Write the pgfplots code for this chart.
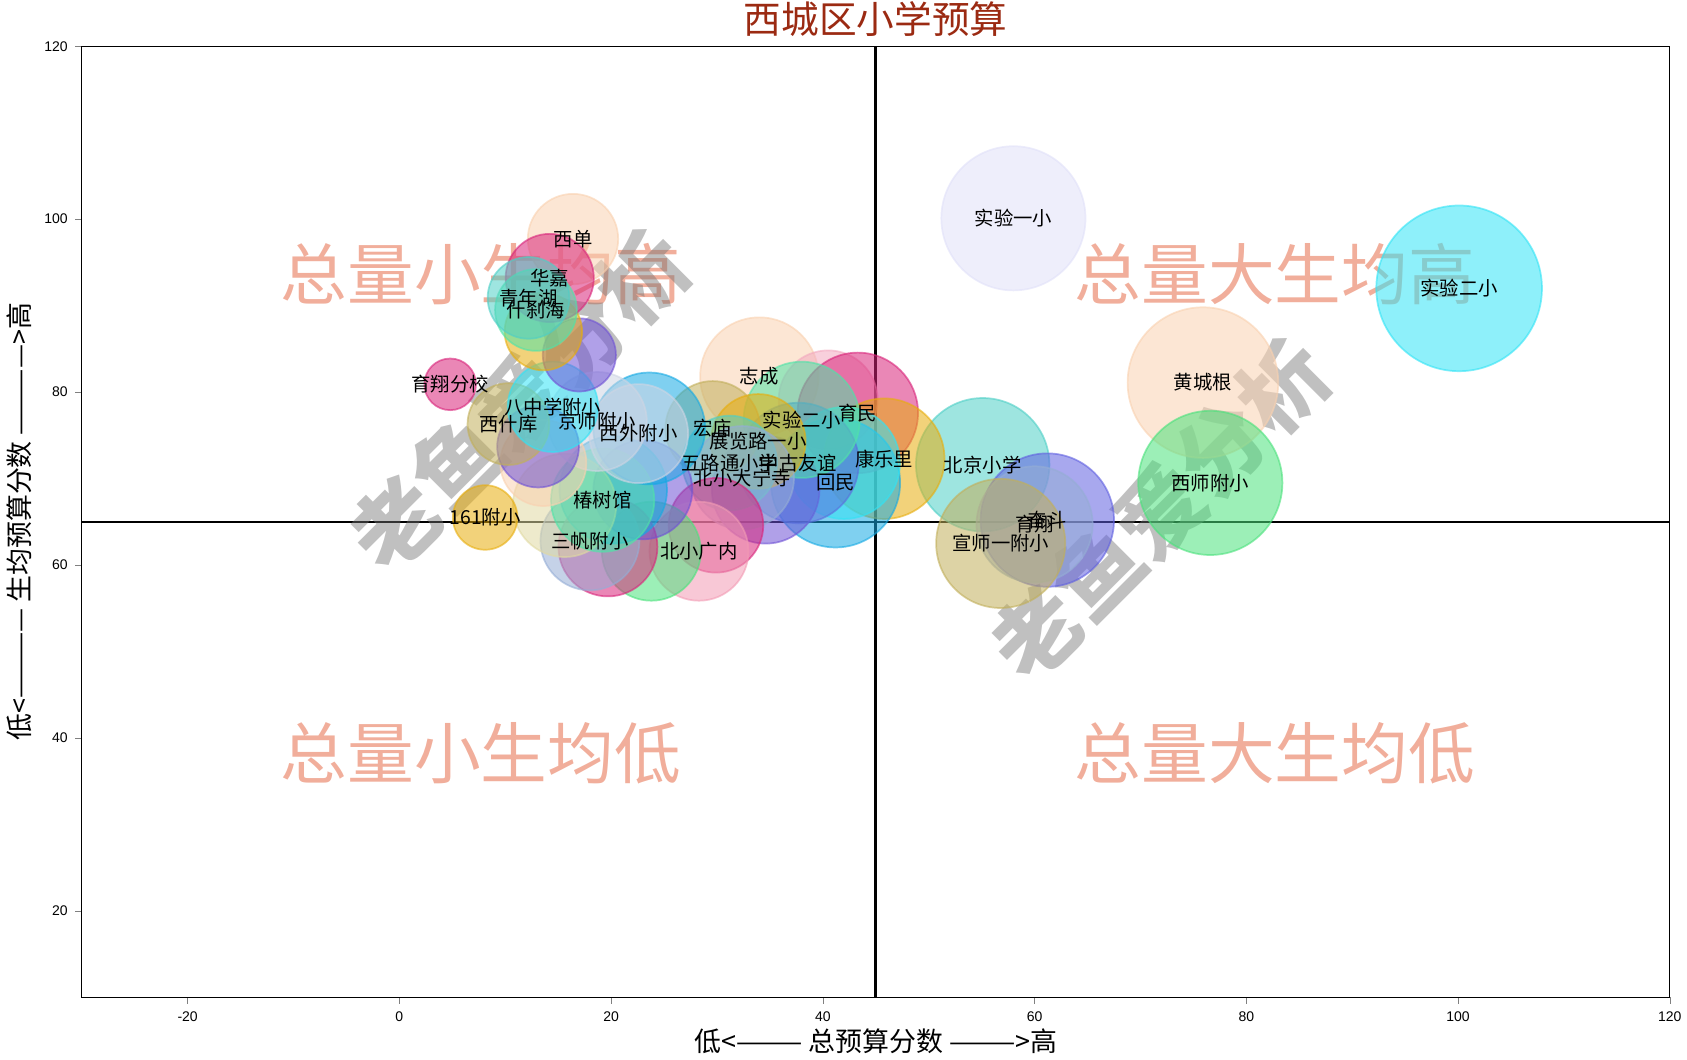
\documentclass[border=0pt]{standalone}
\usepackage{fontspec}
\setmainfont{Liberation Sans}
\newfontfamily\cjk{Noto Sans CJK SC}
\usepackage{pgfplots}
\usepackage{pgfplotstable}
\pgfplotsset{compat=1.18}

% bubble colours (drawn at 55% opacity)
\definecolor{lav}{HTML}{E0E0F8}
\definecolor{aqua}{HTML}{31E3F5}
\definecolor{peach}{HTML}{F9D1B0}
\definecolor{sgreen}{HTML}{4BE17C}
\definecolor{turq}{HTML}{4ECFC6}
\definecolor{mslate}{HTML}{6060E0}
\definecolor{khaki}{HTML}{C1AF5B}
\definecolor{dpink}{HTML}{D8247A}
\definecolor{gold}{HTML}{E7AD0D}
\definecolor{dsky}{HTML}{16A9E3}
\definecolor{pink}{HTML}{F29BB4}
\definecolor{aquam}{HTML}{50E3A8}
\definecolor{lsteel}{HTML}{95ADD5}
\definecolor{alice}{HTML}{CED5E4}
\definecolor{mpurple}{HTML}{6F52D5}
\definecolor{beige}{HTML}{E0D9A2}
\definecolor{lpink}{HTML}{F2A9BF}
\definecolor{cblue}{HTML}{5A70DD}
\definecolor{titlered}{RGB}{155,42,18}
\definecolor{quad}{RGB}{238,160,138}

% one bubble: {x}{y}{radius in pt}{colour}
\newcommand{\bub}[4]{%
  \addplot[only marks, mark=*, mark size=#3pt, draw=#4, fill=#4,
    fill opacity=0.55, draw opacity=0.6, line width=0.8pt, forget plot]
    coordinates {(#1,#2)};}

% school names at the bubble centres
\pgfplotstableread{
x     y     name
58.0  100.1 实验一小
100.1 92.0  实验二小
75.9  81.1  黄城根
76.6  69.5  西师附小
55.1  71.6  北京小学
61.2  65.2  奋斗
60.0  64.7  育翔
56.8  62.5  宣师一附小
34.0  81.8  志成
43.3  77.6  育民
45.8  72.3  康乐里
41.2  69.5  回民
37.7  71.8  中古友谊
38.0  76.8  实验二小
29.6  75.8  宏庙
33.9  74.3  展览路一小
31.2  71.8  五路通小学
32.4  70.1  北小大宁寺
28.3  61.6  北小广内
18.0  62.8  三帆附小
19.2  67.5  椿树馆
8.1   65.5  161附小
22.6  75.2  西外附小
18.7  76.6  京师附小
10.3  76.3  西什库
14.5  78.3  八中学附小
4.8   80.9  育翔分校
16.4  97.7  西单
14.2  93.2  华嘉
12.9  89.5  什刹海
12.2  90.9  青年湖
}\names

\begin{document}
\begin{tikzpicture}
\begin{axis}[
  scale only axis,
  width=738pt, height=442pt,
  xmin=-30, xmax=120, ymin=10, ymax=120,
  xtick={-20,0,...,120}, ytick={20,40,...,120},
  tick align=outside, tick pos=left,
  major tick length=3pt,
  axis line style={line width=0.6pt},
  tick label style={font=\fontsize{6.5}{8}\selectfont},
  /pgf/number format/assume math mode=true,
  title={\cjk 西城区小学预算},
  title style={at={(axis description cs:0.5,1.015)}, anchor=center, yshift=0pt,
    text=titlered, font=\fontsize{17.5}{20}\selectfont},
  xlabel={\cjk 低<——— 总预算分数 ———>高},
  xlabel style={at={(axis description cs:0.5,-0.0464)}, anchor=center,
    font=\fontsize{12.5}{14}\selectfont},
  ylabel={\cjk 低<———— 生均预算分数 ————>高},
  ylabel style={at={(axis description cs:-0.0393,0.5)}, anchor=center,
    font=\fontsize{12.5}{14}\selectfont},
]
% bubbles, back to front
\bub{58.0}{100.1}{33.5}{lav}
\bub{100.1}{92.0}{38.5}{aqua}
\bub{75.9}{81.1}{35}{peach}
\bub{76.6}{69.5}{33.5}{sgreen}
\bub{55.1}{71.6}{31}{turq}
\bub{61.2}{65.2}{31}{mslate}
\bub{60.0}{64.7}{27}{lsteel}
\bub{56.8}{62.5}{30}{khaki}
\bub{34.0}{81.8}{27.5}{peach}
\bub{40.5}{79.1}{23}{lpink}
\bub{43.3}{77.6}{28}{dpink}
\bub{45.8}{72.3}{28}{gold}
\bub{41.2}{69.5}{30}{dsky}
\bub{42.0}{71.8}{26}{aqua}
\bub{34.6}{68.7}{25}{mpurple}
\bub{37.7}{71.8}{28}{cblue}
\bub{38.0}{76.8}{27}{aquam}
\bub{29.6}{75.8}{22}{khaki}
\bub{33.9}{74.3}{22}{gold}
\bub{31.2}{71.8}{22}{turq}
\bub{32.4}{70.1}{24}{lsteel}
\bub{29.9}{64.6}{22}{dpink}
\bub{28.3}{61.6}{23}{pink}
\bub{23.8}{61.6}{23}{sgreen}
\bub{19.7}{62.1}{23}{dpink}
\bub{18.0}{62.8}{23}{lsteel}
\bub{23.0}{68.7}{23}{mpurple}
\bub{20.2}{68.7}{25}{dsky}
\bub{15.6}{66.9}{24}{beige}
\bub{19.2}{67.5}{24}{aquam}
\bub{8.1}{65.5}{15}{gold}
\bub{23.6}{75.8}{26}{dsky}
\bub{22.6}{75.2}{23}{alice}
\bub{18.7}{76.6}{23}{alice}
\bub{13.6}{71.8}{20}{peach}
\bub{13.1}{73.7}{19}{mpurple}
\bub{10.3}{76.3}{19}{khaki}
\bub{14.5}{78.3}{21}{aqua}
\bub{4.8}{80.9}{12}{dpink}
\bub{17.0}{84.3}{17}{mpurple}
\bub{13.6}{87.0}{18}{gold}
\bub{16.4}{97.7}{21}{peach}
\bub{14.2}{93.2}{20.5}{dpink}
\bub{12.9}{89.5}{19}{aquam}
\bub{12.2}{90.9}{19}{turq}

\addplot[
  only marks, mark=none,
  point meta=explicit symbolic,
  nodes near coords,
  nodes near coords style={font=\cjk\fontsize{9}{10}\selectfont,
    anchor=center, text=black, inner sep=0pt},
] table[x=x, y=y, meta=name] {\names};

\addplot[black, line width=1.2pt] coordinates {(45,10) (45,120)};
\addplot[black, line width=1.2pt] coordinates {(-30,65) (120,65)};

\node[text=quad, text opacity=0.85, font=\cjk\fontsize{31}{31}\selectfont]
  at (axis cs:7.7,93.6) {总量小生均高};
\node[text=quad, text opacity=0.85, font=\cjk\fontsize{31}{31}\selectfont]
  at (axis cs:82.7,93.6) {总量大生均高};
\node[text=quad, text opacity=0.85, font=\cjk\fontsize{31}{31}\selectfont]
  at (axis cs:7.7,38.2) {总量小生均低};
\node[text=quad, text opacity=0.85, font=\cjk\fontsize{31}{31}\selectfont]
  at (axis cs:82.7,38.2) {总量大生均低};

\node[rotate=45, text=black!55, text opacity=0.45,
  font=\cjk\bfseries\fontsize{40.5}{40.5}\selectfont]
  at (axis cs:11.3,79.0) {老鱼爱分析};
\node[rotate=45, text=black!55, text opacity=0.45,
  font=\cjk\bfseries\fontsize{40.5}{40.5}\selectfont]
  at (axis cs:71.8,66.4) {老鱼爱分析};
\end{axis}
\pgfresetboundingbox
\path ([shift={(-38pt,-29pt)}]current axis.south west)
  rectangle ([shift={(8pt,21.5pt)}]current axis.north east);
\end{tikzpicture}
\end{document}
